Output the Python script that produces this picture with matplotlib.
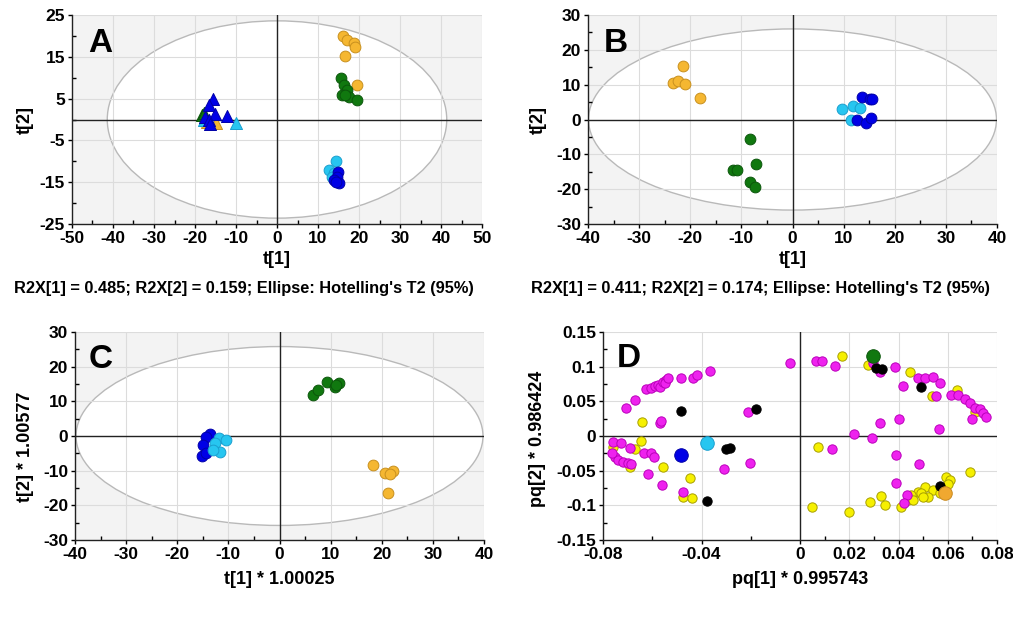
import matplotlib
matplotlib.use("Agg")
import matplotlib.pyplot as plt
from matplotlib.patches import Ellipse
from matplotlib.ticker import FixedLocator, FixedFormatter

plt.rcParams['font.family'] = ['Liberation Sans', 'DejaVu Sans']
plt.rcParams['font.weight'] = 'bold'

# ---------------- Data ----------------
# Panel A (circles / triangles)
A_orange_x = [16.1, 17.1, 18.9, 19.1, 16.7, 19.4]
A_orange_y = [19.9, 19.0, 18.2, 17.4, 15.2, 8.2]
A_green_x = [15.6, 16.3, 17.1, 15.9, 17.5, 19.5, 16.7]
A_green_y = [10.0, 8.2, 7.0, 5.8, 5.4, 4.6, 5.8]
A_lblue_x = [14.5, 12.6, 13.8, 13.4]
A_lblue_y = [-9.9, -12.1, -12.9, -13.7]
A_blue_x = [14.8, 14.6, 13.8, 15.1, 14.5]
A_blue_y = [-12.5, -13.7, -14.4, -15.3, -14.9]
A_tri_green_x = [-18.3, -17.8]
A_tri_green_y = [1.0, 1.5]
A_tri_orange_x = [-15.0, -17.0]
A_tri_orange_y = [-0.8, -0.5]
A_tri_lblue_x = [-9.9, -17.9]
A_tri_lblue_y = [-0.8, -0.2]
A_tri_blue_x = [-15.5, -16.7, -15.1, -12.2, -17.5, -16.7, -16.3]
A_tri_blue_y = [5.0, 3.4, 1.4, 0.8, 0.6, -0.2, -1.0]

# Panel B
B_orange_x = [-21.4, -23.3, -22.4, -21.1, -18.0]
B_orange_y = [15.5, 10.5, 11.1, 10.3, 6.1]
B_green_x = [-8.3, -11.6, -10.8, -7.2, -8.3, -7.4]
B_green_y = [-5.7, -14.4, -14.4, -12.9, -18.0, -19.3]
B_lblue_x = [9.6, 11.9, 13.2, 11.5]
B_lblue_y = [2.9, 3.8, 3.4, 0.0]
B_blue_x = [13.5, 15.1, 15.6, 12.6, 14.3, 15.4]
B_blue_y = [6.5, 5.9, 5.9, -0.2, -1.0, 0.3]

# Panel C
C_green_x = [6.6, 7.6, 9.2, 10.8, 11.7, 11.1]
C_green_y = [11.8, 13.4, 15.6, 14.0, 15.4, 14.7]
C_orange_x = [18.3, 20.6, 22.2, 21.6, 21.2]
C_orange_y = [-8.5, -10.7, -10.0, -10.9, -16.5]
C_blue_x = [-13.6, -14.4, -15.0, -15.2, -14.3]
C_blue_y = [0.6, -0.4, -2.6, -5.7, -4.8]
C_lblue_x = [-11.8, -10.5, -12.6, -11.7, -13.0]
C_lblue_y = [-0.7, -1.2, -2.1, -4.5, -4.0]

# Panel D (loadings)
D_magenta_x = [-0.0708, -0.0671, -0.0624, -0.0604, -0.059, -0.0577, -0.057, -0.0556, -0.0543,
               -0.055, -0.0536, -0.0482, -0.0435, -0.0418, -0.0367, -0.0042, -0.057, -0.0563,
               -0.0211, -0.0759, -0.0726, -0.0753, -0.0739, -0.0719, -0.0698, -0.0685, -0.0689,
               -0.0635, -0.0604, -0.0594, -0.0617, -0.056, -0.0475, -0.031, -0.0202, -0.0762,
               0.0066, 0.0091, 0.0141, 0.0296, 0.0324, 0.0387, 0.0418, 0.0479, 0.0506, 0.054,
               0.0567, 0.0554, 0.0615, 0.0642, 0.0669, 0.0689, 0.0709, 0.073, 0.0743, 0.0754,
               0.070, 0.0324, 0.0402, 0.0564, 0.0218, 0.0294, 0.013, 0.0389, 0.0483, 0.0389,
               0.0435, 0.0421]
D_magenta_y = [0.0398, 0.0518, 0.0672, 0.0686, 0.072, 0.0734, 0.071, 0.0782, 0.0806,
               0.0758, 0.083, 0.083, 0.083, 0.0878, 0.0936, 0.1047, 0.0182, 0.022,
               0.035, -0.0082, -0.0106, -0.0298, -0.0346, -0.037, -0.0384, -0.0403, -0.0178,
               -0.024, -0.024, -0.0298, -0.0552, -0.0706, -0.0802, -0.048, -0.0394, -0.025,
               0.1085, 0.1085, 0.1008, 0.1047, 0.0927, 0.0999, 0.072, 0.083, 0.083, 0.0855,
               0.0768, 0.0576, 0.059, 0.059, 0.0528, 0.047, 0.0398, 0.0384, 0.0326, 0.0269,
               0.024, 0.0192, 0.0245, 0.0096, 0.0029, -0.0034, -0.0192, -0.0274, -0.0403, -0.0672,
               -0.085, -0.097]
D_yellow_x = [-0.064, -0.0644, -0.0759, -0.0671, -0.0692, -0.0556, -0.0448, -0.0475, -0.0437,
              0.0172, 0.0276, 0.0448, 0.0537, 0.0638, 0.0709, 0.0073, 0.0689, 0.0594, 0.0608,
              0.060, 0.0506, 0.054, 0.0479, 0.0452, 0.0493, 0.052, 0.0438, 0.0411, 0.033,
              0.0286, 0.0344, 0.0049, 0.0198, 0.050, 0.0459, 0.0567]
D_yellow_y = [0.0206, -0.0072, -0.0154, -0.0192, -0.0442, -0.0442, -0.061, -0.0874, -0.0898,
              0.1152, 0.1023, 0.0927, 0.0576, 0.0662, 0.035, -0.0154, -0.0523, -0.0586, -0.0634,
              -0.0691, -0.073, -0.0778, -0.0802, -0.085, -0.0816, -0.0874, -0.0922, -0.1018, -0.0864,
              -0.0946, -0.0994, -0.1018, -0.109, -0.0874, -0.0917, -0.0826]
D_black_x = [-0.0482, -0.018, -0.0299, -0.0283, -0.0378, 0.0307, 0.0335, 0.0493, 0.057]
D_black_y = [0.0365, 0.0384, -0.0192, -0.0173, -0.0936, 0.0975, 0.096, 0.0701, -0.072]
D_big_x = [0.0296, -0.0482, -0.0378, 0.0587]
D_big_y = [0.1152, -0.0274, -0.0096, -0.0826]

# ---------------- Style ----------------
ORANGE = ('#f5b731', '#c8901e')
GREEN = ('#10780f', '#0b560b')
LBLUE = ('#27c6f0', '#1a9fcf')
BLUE = ('#0000e6', '#0000a8')
MAGENTA = ('#ee22ee', '#bb00bb')
YELLOW = ('#f6f000', '#a8a000')
BLACK = ('#000000', '#000000')
BG = '#f3f3f3'

W, H = 1013, 624
fig = plt.figure(figsize=(W / 100, H / 100), dpi=100)

FS_TICK = 12.5
FS_LAB = 13
FS_CAP = 11.8
FS_LET = 24
S_PT = 60


def make_ax(l, r, t, b):
    return fig.add_axes([l / W, 1 - b / H, (r - l) / W, (b - t) / H])


def style_ax(ax, xlim, ylim, xmaj, ymaj, xmin, ymin, xlabels=None, ylabels=None, ell=None, bg=BG):
    ax.set_xlim(*xlim)
    ax.set_ylim(*ylim)
    ax.set_facecolor(bg)
    for s in ('top', 'right'):
        ax.spines[s].set_visible(False)
    for s in ('left', 'bottom'):
        ax.spines[s].set_color('#222222')
        ax.spines[s].set_linewidth(1.0)
    ax.xaxis.set_major_locator(FixedLocator(xmaj))
    ax.yaxis.set_major_locator(FixedLocator(ymaj))
    ax.xaxis.set_minor_locator(FixedLocator(xmin))
    ax.yaxis.set_minor_locator(FixedLocator(ymin))
    if xlabels is None:
        xlabels = [f'{v:g}' for v in xmaj]
    if ylabels is None:
        ylabels = [f'{v:g}' for v in ymaj]
    ax.xaxis.set_major_formatter(FixedFormatter(xlabels))
    ax.yaxis.set_major_formatter(FixedFormatter(ylabels))
    ax.tick_params(which='major', direction='out', length=3, width=1, labelsize=FS_TICK, pad=2)
    ax.tick_params(which='minor', direction='in', length=3, width=1)
    for lab in ax.get_xticklabels() + ax.get_yticklabels():
        lab.set_fontweight('bold')
    ax.grid(True, which='major', color='#dcdcdc', lw=0.8)
    ax.set_axisbelow(True)
    if ell is not None:
        e = Ellipse((0, 0), 2 * ell[0], 2 * ell[1], facecolor='white', edgecolor='#b9b9b9',
                    lw=1.0, zorder=0.2)
        ax.add_patch(e)
    ax.axhline(0, color='#222222', lw=1.0, zorder=1)
    ax.axvline(0, color='#222222', lw=1.0, zorder=1)


def pts(ax, x, y, col, s=S_PT, marker='o', z=3):
    ax.scatter(x, y, s=s, c=col[0], edgecolors=col[1], linewidths=0.7, marker=marker, zorder=z)


# ---------- Panel A ----------
axA = make_ax(72, 482, 15, 224)
style_ax(axA, (-50, 50), (-25, 25),
         list(range(-50, 51, 10)), [25, 15, 5, -5, -15, -25],
         list(range(-45, 50, 10)), [20, 10, 0, -10, -20], ell=(41.4, 23.6))
pts(axA, A_orange_x, A_orange_y, ORANGE)
pts(axA, A_green_x, A_green_y, GREEN)
pts(axA, A_lblue_x, A_lblue_y, LBLUE)
pts(axA, A_blue_x, A_blue_y, BLUE)
pts(axA, A_tri_green_x, A_tri_green_y, GREEN, s=75, marker='^')
pts(axA, A_tri_orange_x, A_tri_orange_y, ORANGE, s=75, marker='^')
pts(axA, A_tri_lblue_x, A_tri_lblue_y, LBLUE, s=75, marker='^')
pts(axA, A_tri_blue_x, A_tri_blue_y, BLUE, s=75, marker='^')
axA.set_xlabel('t[1]', fontsize=FS_LAB, fontweight='bold', va='center')
axA.xaxis.set_label_coords(0.5, -0.172)
axA.set_ylabel('t[2]', fontsize=FS_LAB, fontweight='bold', va='center')
axA.yaxis.set_label_coords(-0.115, 0.5)
axA.text(0.039, 0.823, 'A', transform=axA.transAxes, fontsize=FS_LET, fontweight='bold', va='baseline')
fig.text(244 / W, 1 - 289 / H, "R2X[1] = 0.485; R2X[2] = 0.159; Ellipse: Hotelling's T2 (95%)",
         ha='center', va='center', fontsize=FS_CAP, fontweight='bold')

# ---------- Panel B ----------
axB = make_ax(588, 997, 15, 224)
style_ax(axB, (-40, 40), (-30, 30),
         list(range(-40, 41, 10)), list(range(-30, 31, 10)),
         list(range(-35, 40, 10)), list(range(-25, 30, 10)), ell=(39.9, 26.0))
pts(axB, B_orange_x, B_orange_y, ORANGE)
pts(axB, B_green_x, B_green_y, GREEN)
pts(axB, B_lblue_x, B_lblue_y, LBLUE)
pts(axB, B_blue_x, B_blue_y, BLUE)
axB.set_xlabel('t[1]', fontsize=FS_LAB, fontweight='bold', va='center')
axB.xaxis.set_label_coords(0.5, -0.172)
axB.set_ylabel('t[2]', fontsize=FS_LAB, fontweight='bold', va='center')
axB.yaxis.set_label_coords(-0.122, 0.5)
axB.text(0.039, 0.823, 'B', transform=axB.transAxes, fontsize=FS_LET, fontweight='bold', va='baseline')
fig.text(760 / W, 1 - 289 / H, "R2X[1] = 0.411; R2X[2] = 0.174; Ellipse: Hotelling's T2 (95%)",
         ha='center', va='center', fontsize=FS_CAP, fontweight='bold')

# ---------- Panel C ----------
axC = make_ax(75, 484, 332, 540)
style_ax(axC, (-40, 40), (-30, 30),
         list(range(-40, 41, 10)), list(range(-30, 31, 10)),
         list(range(-35, 40, 10)), list(range(-25, 30, 10)), ell=(39.8, 25.8))
pts(axC, C_green_x, C_green_y, GREEN)
pts(axC, C_orange_x, C_orange_y, ORANGE)
pts(axC, C_blue_x, C_blue_y, BLUE)
pts(axC, C_lblue_x, C_lblue_y, LBLUE)
axC.set_xlabel('t[1] * 1.00025', fontsize=FS_LAB, fontweight='bold', va='center')
axC.xaxis.set_label_coords(0.5, -0.1875)
axC.set_ylabel('t[2] * 1.00577', fontsize=FS_LAB, fontweight='bold', va='center')
axC.yaxis.set_label_coords(-0.122, 0.45)
axC.text(0.034, 0.827, 'C', transform=axC.transAxes, fontsize=FS_LET, fontweight='bold', va='baseline')

# ---------- Panel D ----------
axD = make_ax(603, 997, 332, 540)
style_ax(axD, (-0.08, 0.08), (-0.15, 0.15),
         [-0.08, -0.04, 0, 0.02, 0.04, 0.06, 0.08],
         [0.15, 0.1, 0.05, 0, -0.05, -0.1, -0.15],
         [-0.06, -0.02, 0.01, 0.03, 0.05, 0.07],
         [0.125, 0.075, 0.025, -0.025, -0.075, -0.125],
         xlabels=['-0.08', '-0.04', '0', '0.02', '0.04', '0.06', '0.08'],
         ylabels=['0.15', '0.1', '0.05', '0', '-0.05', '-0.1', '-0.15'], bg='white')
pts(axD, D_yellow_x, D_yellow_y, YELLOW, s=45)
pts(axD, D_magenta_x, D_magenta_y, MAGENTA, s=45, z=4)
pts(axD, D_black_x, D_black_y, BLACK, s=45, z=4)
axD.scatter(D_big_x[0:1], D_big_y[0:1], s=95, c=GREEN[0], edgecolors=GREEN[1], linewidths=0.7, zorder=5)
axD.scatter(D_big_x[1:2], D_big_y[1:2], s=95, c=BLUE[0], edgecolors=BLUE[1], linewidths=0.7, zorder=5)
axD.scatter(D_big_x[2:3], D_big_y[2:3], s=95, c=LBLUE[0], edgecolors=LBLUE[1], linewidths=0.7, zorder=5)
axD.scatter(D_big_x[3:4], D_big_y[3:4], s=95, c='#f0a830', edgecolors='#c88a20', linewidths=0.7, zorder=5)
axD.set_xlabel('pq[1] * 0.995743', fontsize=FS_LAB, fontweight='bold', va='center')
axD.xaxis.set_label_coords(0.5, -0.1875)
axD.set_ylabel('pq[2] * 0.986424', fontsize=FS_LAB, fontweight='bold', va='center')
axD.yaxis.set_label_coords(-0.165, 0.486)
axD.text(0.036, 0.832, 'D', transform=axD.transAxes, fontsize=FS_LET, fontweight='bold', va='baseline')

fig.savefig('out.png', dpi=100, facecolor='white')
